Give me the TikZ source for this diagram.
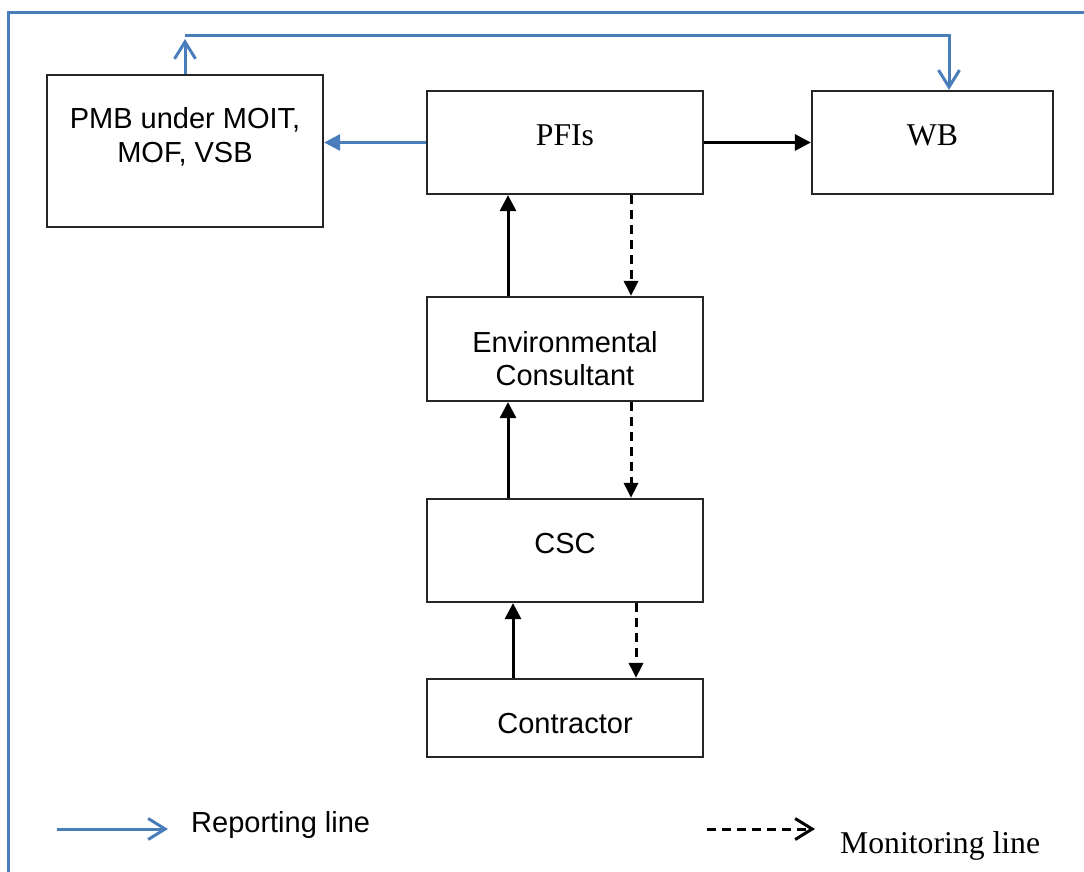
\documentclass[tikz,border=0pt]{standalone}
\usepackage{fontspec}
\setmainfont{Liberation Serif}
\newfontfamily\arialf{Liberation Sans}
\usetikzlibrary{arrows.meta}
\definecolor{repblue}{RGB}{74,126,187}
\begin{document}
\begin{tikzpicture}[x=1pt,y=-1pt,
  box/.style={draw=black!85, line width=2.2pt, rectangle, inner sep=0pt},
  sanstxt/.style={font=\arialf\fontsize{29}{33}\selectfont, inner sep=0pt, anchor=base},
  seriftxt/.style={font=\fontsize{31.7}{36}\selectfont, inner sep=0pt, anchor=base},
  frameline/.style={draw=repblue, line width=3pt},
  repline/.style={draw=repblue, line width=3pt},
  repfill/.style={repline, -{Triangle[length=16pt,width=16pt]}},
  repopen/.style={repline, -{Straight Barb[length=17pt,width=21pt,line width=3pt]}},
  solidline/.style={draw=black, line width=3pt, -{Triangle[length=16pt,width=16pt]}},
  monline/.style={draw=black, line width=3pt, dash pattern=on 9pt off 6pt, -{Triangle[length=15pt,width=14pt]}},
  monopen/.style={draw=black, line width=3pt, dash pattern=on 9pt off 6pt, -{Straight Barb[length=17pt,width=21pt,line width=3pt]}}
]
\useasboundingbox (0,0) rectangle (1084,872);
% frame
\draw[frameline] (1084,13) -- (8,13) -- (8,872);

% boxes
\node[box, minimum width=276pt, minimum height=152pt] (pmb) at (185,151) {};
\node[box, minimum width=276pt, minimum height=103pt] (pfi) at (565,142.5) {};
\node[box, minimum width=241pt, minimum height=103pt] (wb) at (932.5,142.5) {};
\node[box, minimum width=276pt, minimum height=104pt] (env) at (565,349) {};
\node[box, minimum width=276pt, minimum height=103pt] (csc) at (565,550.5) {};
\node[box, minimum width=276pt, minimum height=78pt] (con) at (565,718) {};

% texts
\node[sanstxt] (pmbA) at (185,129) {PMB under MOIT,};
\node[sanstxt] (pmbB) at (185,162) {MOF, VSB};
\node[seriftxt] (pfiT) at (565,146) {PFIs};
\node[seriftxt] (wbT) at (932.5,146) {WB};
\node[sanstxt] (envA) at (565,352) {Environmental};
\node[sanstxt] (envB) at (565,385) {Consultant};
\node[sanstxt] (cscT) at (565,553) {CSC};
\node[sanstxt] (conT) at (565,733) {Contractor};

% reporting connectors
\draw[repfill] (pfi.west) -- (pfi.west -| pmb.east);
\coordinate (c1) at (185,36);
\coordinate (c2) at (949,36);
\draw[repopen] (pmb.north) -- ([yshift=-3pt]c1);
\draw[repopen] (c1) -- (c2) -- (c2 |- wb.north);
\draw[solidline] (pfi.east) -- (wb.west);

% vertical connectors
\draw[solidline] ([xshift=-57pt]env.north) -- ([xshift=-57pt]pfi.south);
\draw[solidline] ([xshift=-57pt]csc.north) -- ([xshift=-57pt]env.south);
\draw[solidline] ([xshift=-52pt]con.north) -- ([xshift=-52pt]csc.south);
\draw[monline] ([xshift=66pt]pfi.south) -- ([xshift=66pt]env.north);
\draw[monline] ([xshift=66pt]env.south) -- ([xshift=66pt]csc.north);
\draw[monline] ([xshift=71pt]csc.south) -- ([xshift=71pt]con.north);

% legend
\coordinate (l1a) at (57,829);
\coordinate (l1b) at (168,829);
\draw[repopen] (l1a) -- (l1b);
\node[sanstxt, anchor=base west] (legR) at (191,832) {Reporting line};
\coordinate (l2a) at (707,829);
\coordinate (l2b) at (815,829);
\draw[monopen] (l2a) -- (l2b);
\node[seriftxt, anchor=base west] (legM) at (840,853) {Monitoring line};
\end{tikzpicture}
\end{document}
